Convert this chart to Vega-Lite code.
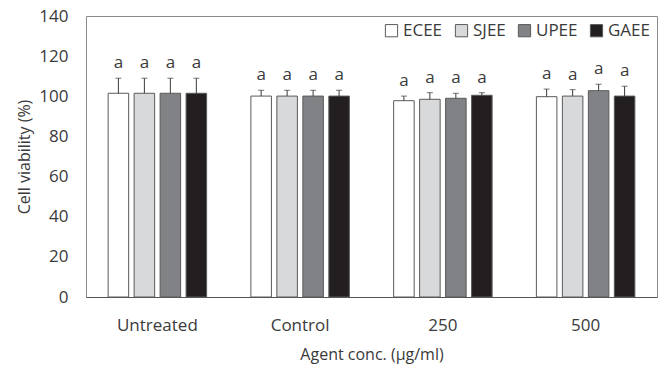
{
  "$schema": "https://vega.github.io/schema/vega-lite/v6.json",
  "width": 571,
  "height": 281,
  "autosize": "none",
  "padding": {"left": 86, "top": 16, "right": 7, "bottom": 72},
  "config": {
    "font": "Open Sans",
    "view": {"stroke": "#8a8a8a", "strokeWidth": 1},
    "axis": {"labelFont": "Open Sans", "titleFont": "Open Sans", "labelColor": "#3a3a3a", "titleColor": "#3a3a3a", "titleFontWeight": "normal", "grid": false, "ticks": false}
  },
  "data": {
    "values": [
      {"group": "Untreated", "agent": "ECEE", "value": 101.5, "upper": 109, "sig": "a"},
      {"group": "Untreated", "agent": "SJEE", "value": 101.5, "upper": 109, "sig": "a"},
      {"group": "Untreated", "agent": "UPEE", "value": 101.5, "upper": 109, "sig": "a"},
      {"group": "Untreated", "agent": "GAEE", "value": 101.5, "upper": 109, "sig": "a"},
      {"group": "Control", "agent": "ECEE", "value": 100.1, "upper": 103, "sig": "a"},
      {"group": "Control", "agent": "SJEE", "value": 100.1, "upper": 103, "sig": "a"},
      {"group": "Control", "agent": "UPEE", "value": 100.1, "upper": 103, "sig": "a"},
      {"group": "Control", "agent": "GAEE", "value": 100.1, "upper": 103, "sig": "a"},
      {"group": "250", "agent": "ECEE", "value": 97.8, "upper": 100.1, "sig": "a"},
      {"group": "250", "agent": "SJEE", "value": 98.5, "upper": 101.8, "sig": "a"},
      {"group": "250", "agent": "UPEE", "value": 99.0, "upper": 101.5, "sig": "a"},
      {"group": "250", "agent": "GAEE", "value": 100.5, "upper": 101.8, "sig": "a"},
      {"group": "500", "agent": "ECEE", "value": 99.8, "upper": 103.6, "sig": "a"},
      {"group": "500", "agent": "SJEE", "value": 100.1, "upper": 103.3, "sig": "a"},
      {"group": "500", "agent": "UPEE", "value": 102.8, "upper": 106, "sig": "a"},
      {"group": "500", "agent": "GAEE", "value": 100.1, "upper": 105, "sig": "a"}
    ]
  },
  "encoding": {
    "x": {
      "field": "group", "type": "nominal",
      "sort": ["Untreated", "Control", "250", "500"],
      "scale": {"paddingInner": 0.31, "paddingOuter": 0.155},
      "axis": {"title": "Agent conc. (µg/ml)", "labelAngle": 0, "labelFontSize": 17, "titleFontSize": 16, "labelPadding": 20, "titlePadding": 13, "domainColor": "#555"}
    },
    "xOffset": {
      "field": "agent", "type": "nominal",
      "sort": ["ECEE", "SJEE", "UPEE", "GAEE"],
      "scale": {"paddingInner": 0.21, "paddingOuter": 0}
    }
  },
  "layer": [
    {
      "mark": {"type": "bar", "stroke": "#5a5a5a", "strokeWidth": 1},
      "encoding": {
        "y": {
          "field": "value", "type": "quantitative",
          "scale": {"domain": [0, 140], "nice": false},
          "axis": {"title": "Cell viability (%)", "values": [0, 20, 40, 60, 80, 100, 120, 140], "labelFontSize": 17, "titleFontSize": 16, "labelPadding": 18, "titlePadding": 6, "domain": false}
        },
        "fill": {
          "field": "agent", "type": "nominal",
          "sort": ["ECEE", "SJEE", "UPEE", "GAEE"],
          "scale": {"domain": ["ECEE", "SJEE", "UPEE", "GAEE"], "range": ["#ffffff", "#d8d9da", "#808285", "#231f20"]},
          "legend": {
            "title": null, "orient": "top-right", "direction": "horizontal",
            "symbolType": "square", "symbolSize": 150, "symbolStrokeColor": "#5a5a5a", "symbolStrokeWidth": 1,
            "labelFontSize": 17, "labelColor": "#3a3a3a", "labelFont": "Open Sans",
            "labelOffset": 3, "columnPadding": 10, "offset": 6, "padding": 0
          }
        }
      }
    },
    {
      "mark": {"type": "rule", "color": "#3a3a3a", "strokeWidth": 1},
      "encoding": {
        "y": {"field": "value", "type": "quantitative"},
        "y2": {"field": "upper"}
      }
    },
    {
      "mark": {"type": "tick", "color": "#3a3a3a", "thickness": 1, "size": 6},
      "encoding": {
        "y": {"field": "upper", "type": "quantitative"}
      }
    },
    {
      "mark": {"type": "text", "fontSize": 17, "color": "#3a3a3a", "baseline": "alphabetic", "dy": -10},
      "encoding": {
        "y": {"field": "upper", "type": "quantitative"},
        "text": {"field": "sig"}
      }
    }
  ]
}
